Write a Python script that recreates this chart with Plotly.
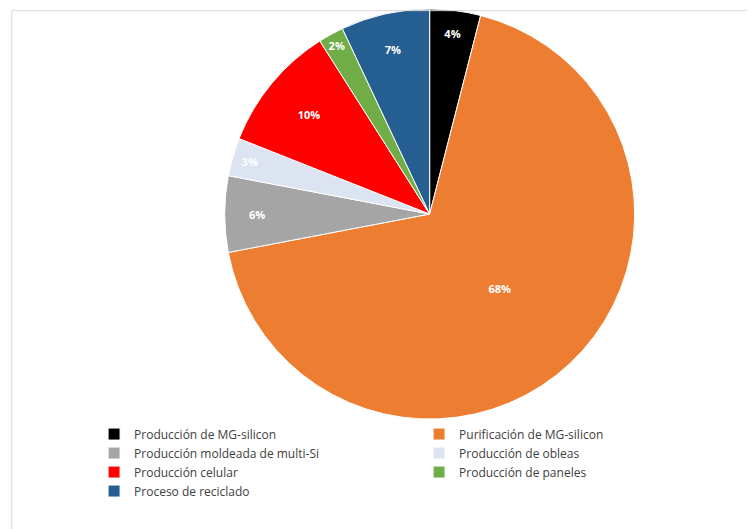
import plotly.graph_objects as go

labels = [
    "Producción de MG-silicon",
    "Purificación de MG-silicon",
    "Producción moldeada de multi-Si",
    "Producción de obleas",
    "Producción celular",
    "Producción de paneles",
    "Proceso de reciclado",
]
values = [4, 68, 6, 3, 10, 2, 7]
colors = ["#000000", "#ED7D31", "#A5A5A5", "#DCE4F2", "#FF0000", "#70AD47", "#255E91"]

fig = go.Figure(go.Pie(
    labels=labels,
    values=values,
    sort=False,
    direction="clockwise",
    rotation=0,
    marker=dict(colors=colors, line=dict(color="white", width=1)),
    texttemplate="<b>%{percent:.0%}</b>",
    textposition="inside",
    insidetextorientation="horizontal",
    textfont=dict(color="white", size=11, family="Open Sans"),
    domain=dict(x=[0.280, 0.837], y=[0.223, 0.998]),
))

fig.update_layout(
    width=755, height=529,
    margin=dict(l=0, r=0, t=0, b=0),
    paper_bgcolor="white",
    font=dict(family="Open Sans", color="#595959"),
    uniformtext=dict(minsize=10, mode="show"),
    legend=dict(
        orientation="h",
        x=0.114, xanchor="left",
        y=0.222, yanchor="top",
        entrywidth=280, entrywidthmode="pixels",
        font=dict(size=12, color="#404040"),
        itemclick=False,
    ),
    shapes=[dict(type="rect", xref="paper", yref="paper", x0=0.005, x1=0.995, y0=0.005, y1=0.995,
                 line=dict(color="#D9D9D9", width=1))],
)

fig.write_html("out.html")
